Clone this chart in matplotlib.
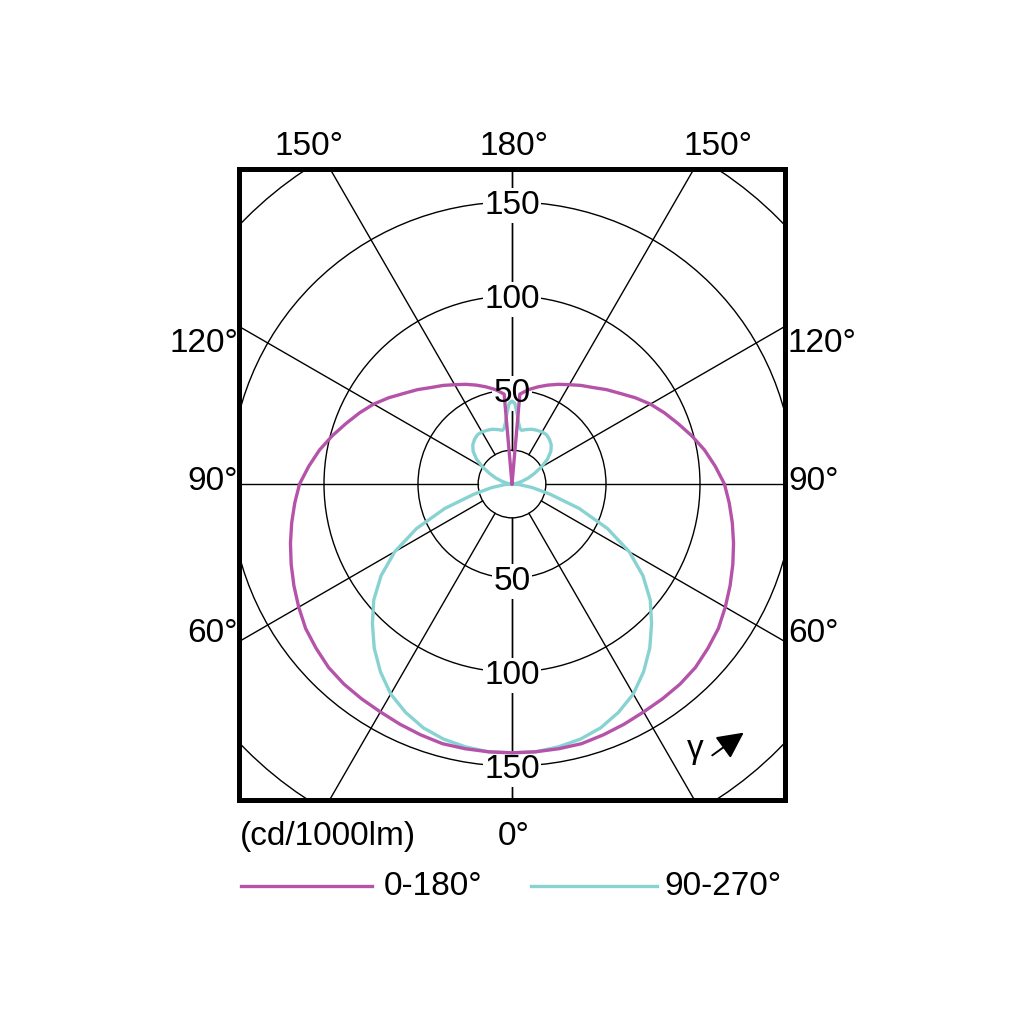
import numpy as np
import matplotlib
matplotlib.use('Agg')
import matplotlib.pyplot as plt
from matplotlib.patches import Circle, FancyArrowPatch
from matplotlib.lines import Line2D

# ---------------- data ----------------
gamma_c0 = [0, 5, 10, 15, 20, 25, 30, 35, 40, 45, 50, 55, 60, 65, 70, 75, 80, 85, 90,
            95, 100, 105, 110, 115, 120, 125, 130, 135, 140, 145, 150, 155, 160, 165, 170, 175, 180]
intensity_c0 = [143, 143, 143, 143, 142, 141, 140, 139.5, 139, 138, 136, 134, 131, 128, 125, 122, 119, 116, 113,
                108.5, 104, 99, 94, 89.5, 85, 80, 75, 71, 67, 64, 61, 58.5, 56, 53.5, 51, 48, 0]

gamma_c90 = [0, 5, 10, 15, 20, 25, 30, 35, 40, 45, 50, 55, 60, 65, 70, 75, 80, 85, 90,
             95, 100, 105, 110, 115, 120, 125, 130, 135, 140, 145, 150, 155, 160, 165, 170, 172, 174, 176, 178, 180]
intensity_c90 = [143, 143, 142, 140.5, 138, 134, 129, 122, 114, 105, 96, 85, 72, 56, 38, 21, 11, 4, 0,
                 1.5, 3, 5.5, 9, 13, 18, 23, 27, 29.5, 31, 32, 32, 31.5, 31, 30, 29, 30, 33, 38, 43, 44]

series_names = ['0-180°', '90-270°']
series_colors = ['#b553a9', '#88d3d2']

ring_values = [18, 50, 100, 150, 200]
ring_labels = ['50', '100', '150']
spoke_angles = [0, 30, 60, 90, 120, 150, 180]

top_labels = ['150°', '180°', '150°']
side_labels = ['120°', '90°', '60°']
bottom_label = '0°'
unit_label = '(cd/1000lm)'

FONT = ['Liberation Sans', 'DejaVu Sans']
FS = 24
DIGIT_PX = 24

# ---------------- figure ----------------
W = H = 1024
fig = plt.figure(figsize=(10.24, 10.24), dpi=100)
fig.patch.set_facecolor('white')

box_l, box_r, box_t, box_b = 239, 785, 169, 800
cx, cy = 512, 484
scale = 1.88  # px per cd/1000lm

ax = fig.add_axes([box_l / W, 1 - box_b / H, (box_r - box_l) / W, (box_b - box_t) / H])
ax.set_xlim(-(cx - box_l) / scale, (box_r - cx) / scale)
ax.set_ylim(-(box_b - cy) / scale, (cy - box_t) / scale)
ax.set_xticks([])
ax.set_yticks([])
for s in ax.spines.values():
    s.set_linewidth(3.6)
    s.set_color('black')
    s.set_zorder(10)

# grid circles
for r in ring_values:
    ax.add_patch(Circle((0, 0), r, fill=False, ec='black', lw=1.0, zorder=1))

# spokes (from inner circle outwards)
r0, r1 = ring_values[0], 400
for a in spoke_angles:
    t = np.deg2rad(a)
    for side in (-1, 1):
        ax.plot([side * r0 * np.sin(t), side * r1 * np.sin(t)],
                [-r0 * np.cos(t), -r1 * np.cos(t)], color='black', lw=1.0, zorder=1)

# ring value labels on the vertical axis (top and bottom)
digit_h = DIGIT_PX / scale
for lab in ring_labels:
    v = float(lab)
    for sgn in (1, -1):
        y = sgn * v - digit_h / 2
        ax.text(0, y, lab, ha='center', va='baseline', fontsize=FS, family=FONT,
                color='white',
                bbox=dict(boxstyle='square,pad=0.05', fc='white', ec='none'), zorder=2)
        ax.text(0, y, lab, ha='center', va='baseline', fontsize=FS, family=FONT,
                color='black', zorder=4)


def curve(gam, inten):
    g = np.asarray(gam, float)
    i = np.asarray(inten, float)
    g_full = np.concatenate([-g[::-1], g[1:]])
    i_full = np.concatenate([i[::-1], i[1:]])
    t = np.deg2rad(g_full)
    return i_full * np.sin(t), -i_full * np.cos(t)


x0, y0 = curve(gamma_c0, intensity_c0)
x1, y1 = curve(gamma_c90, intensity_c90)
ax.plot(x1, y1, color=series_colors[1], lw=2.4, zorder=3,
        solid_joinstyle='round', solid_capstyle='round')
ax.plot(x0, y0, color=series_colors[0], lw=2.4, zorder=3,
        solid_joinstyle='round', solid_capstyle='round')


# ---------------- outside labels ----------------
def ftext(x, y, s, ha='center', va='baseline', **kw):
    fig.text(x / W, 1 - y / H, s, ha=ha, va=va, fontsize=FS, family=FONT, color='black', **kw)


ftext(309, 155, top_labels[0])
ftext(514, 155, top_labels[1])
ftext(718, 155, top_labels[2])

side_base = [352, 490, 642]
for lab, yb in zip(side_labels, side_base):
    ftext(238, yb, lab, ha='right')
    ftext(788, yb, lab, ha='left')

ftext(514, 845, bottom_label)
ftext(240, 845, unit_label, ha='left')

# legend
leg_y = 886
fig.add_artist(Line2D([241 / W, 372 / W], [1 - leg_y / H] * 2, color=series_colors[0], lw=2.4))
ftext(384, 895, series_names[0], ha='left')
fig.add_artist(Line2D([531 / W, 657 / W], [1 - leg_y / H] * 2, color=series_colors[1], lw=2.4))
ftext(664, 895, series_names[1], ha='left')

# gamma indicator
ftext(695, 758, 'γ')
fig.add_artist(FancyArrowPatch(
    (710 / W, 1 - 757 / H), (746 / W, 1 - 731 / H), transform=fig.transFigure,
    arrowstyle='-|>,head_length=0.9,head_width=0.45', mutation_scale=18, color='black', lw=1.4))

fig.savefig('out.png', dpi=100, facecolor='white')
